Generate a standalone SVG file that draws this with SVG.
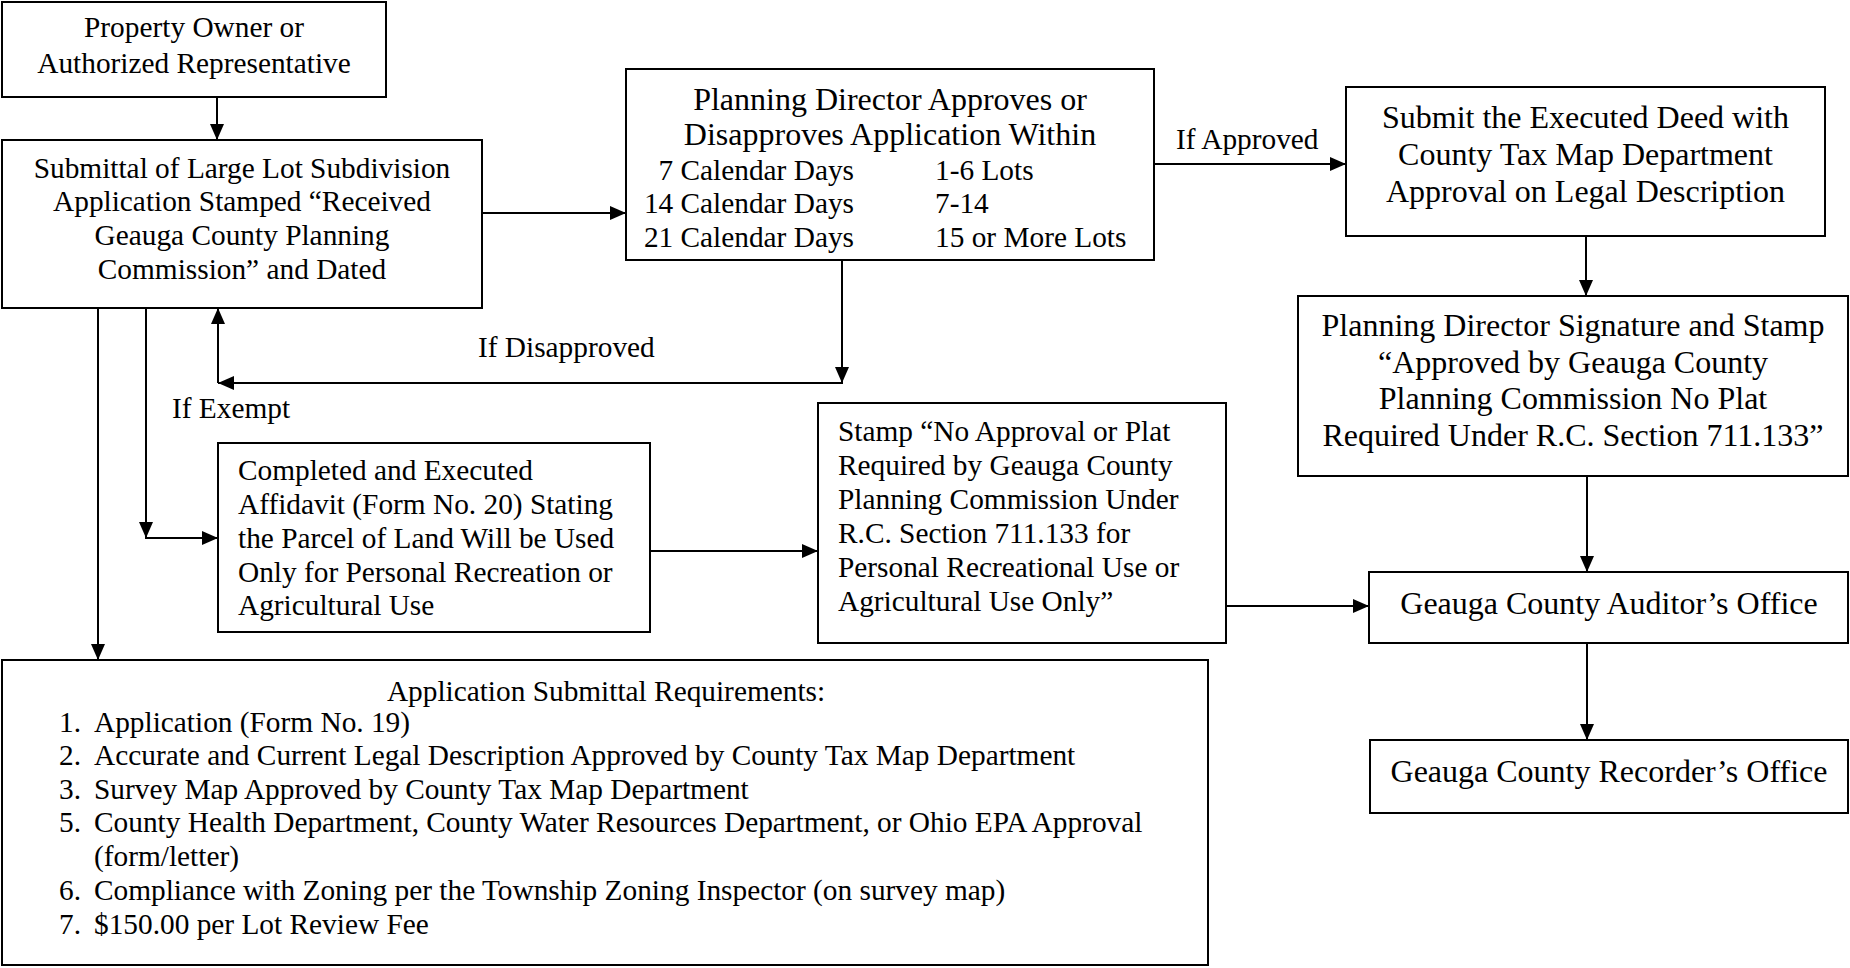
<svg xmlns="http://www.w3.org/2000/svg" width="1850" height="968" viewBox="0 0 1850 968">
<style>
.box{fill:#fff;stroke:#000;stroke-width:2}
.t{font-family:"Liberation Serif","Times New Roman",serif;fill:#000}
.s11{font-size:29.33px}
.s12{font-size:32px}
.c{text-anchor:middle}
.e{text-anchor:end}
.conn{stroke:#000;stroke-width:2;fill:none;marker-end:url(#ah)}
</style>
<defs>
<marker id="ah" markerUnits="userSpaceOnUse" markerWidth="16" markerHeight="14" refX="16" refY="7" orient="auto">
<path d="M0,0 L16,7 L0,14 z" fill="#000"/>
</marker>
</defs>
<rect width="1850" height="968" fill="#fff"/>
<g id="connectors">
<line class="conn" x1="217" y1="97" x2="217" y2="140"/>
<line class="conn" x1="482" y1="213" x2="626" y2="213"/>
<line class="conn" x1="1154" y1="164" x2="1346" y2="164"/>
<line class="conn" x1="1586" y1="236" x2="1586" y2="296"/>
<line class="conn" x1="1587" y1="476" x2="1587" y2="572"/>
<line class="conn" x1="1587" y1="643" x2="1587" y2="740"/>
<line class="conn" x1="1226" y1="606" x2="1369" y2="606"/>
<line class="conn" x1="650" y1="551" x2="818" y2="551"/>
<line class="conn" x1="842" y1="260" x2="842" y2="383"/>
<line class="conn" x1="843" y1="383" x2="218" y2="383"/>
<line class="conn" x1="218" y1="383" x2="218" y2="308"/>
<line class="conn" x1="146" y1="308" x2="146" y2="538"/>
<line class="conn" x1="145" y1="538" x2="218" y2="538"/>
<line class="conn" x1="98" y1="308" x2="98" y2="660"/>
<text class="t s11" x="1176" y="149">If Approved</text>
<text class="t s11" x="478" y="357">If Disapproved</text>
<text class="t s11" x="172" y="418">If Exempt</text>
</g>
<g id="owner">
<rect class="box" x="2" y="2" width="384" height="95"/>
<text class="t s11 c" x="194" y="37">Property Owner or</text>
<text class="t s11 c" x="194" y="73">Authorized Representative</text>
</g>
<g id="submittal">
<rect class="box" x="2" y="140" width="480" height="168"/>
<text class="t s11 c" x="242" y="178">Submittal of Large Lot Subdivision</text>
<text class="t s11 c" x="242" y="211">Application Stamped “Received</text>
<text class="t s11 c" x="242" y="245">Geauga County Planning</text>
<text class="t s11 c" x="242" y="279">Commission” and Dated</text>
</g>
<g id="director">
<rect class="box" x="626" y="69" width="528" height="191"/>
<text class="t s12 c" x="890" y="110">Planning Director Approves or</text>
<text class="t s12 c" x="890" y="145">Disapproves Application Within</text>
<text class="t s11 e" x="854" y="180">7 Calendar Days</text>
<text class="t s11 e" x="854" y="213">14 Calendar Days</text>
<text class="t s11 e" x="854" y="247">21 Calendar Days</text>
<text class="t s11" x="935" y="180">1-6 Lots</text>
<text class="t s11" x="935" y="213">7-14</text>
<text class="t s11" x="935" y="247">15 or More Lots</text>
</g>
<g id="deed">
<rect class="box" x="1346" y="87" width="479" height="149"/>
<text class="t s12 c" x="1585.5" y="128">Submit the Executed Deed with</text>
<text class="t s12 c" x="1585.5" y="165">County Tax Map Department</text>
<text class="t s12 c" x="1585.5" y="202">Approval on Legal Description</text>
</g>
<g id="signature">
<rect class="box" x="1298" y="296" width="550" height="180"/>
<text class="t s12 c" x="1573" y="336">Planning Director Signature and Stamp</text>
<text class="t s12 c" x="1573" y="373">“Approved by Geauga County</text>
<text class="t s12 c" x="1573" y="409">Planning Commission No Plat</text>
<text class="t s12 c" x="1573" y="446">Required Under R.C. Section 711.133”</text>
</g>
<g id="auditor">
<rect class="box" x="1369" y="572" width="479" height="71"/>
<text class="t s12 c" x="1609" y="614">Geauga County Auditor’s Office</text>
</g>
<g id="recorder">
<rect class="box" x="1370" y="740" width="478" height="73"/>
<text class="t s12 c" x="1609" y="782">Geauga County Recorder’s Office</text>
</g>
<g id="affidavit">
<rect class="box" x="218" y="443" width="432" height="189"/>
<text class="t s11" x="238" y="480">Completed and Executed</text>
<text class="t s11" x="238" y="514">Affidavit (Form No. 20) Stating</text>
<text class="t s11" x="238" y="548">the Parcel of Land Will be Used</text>
<text class="t s11" x="238" y="582">Only for Personal Recreation or</text>
<text class="t s11" x="238" y="615">Agricultural Use</text>
</g>
<g id="stamp">
<rect class="box" x="818" y="403" width="408" height="240"/>
<text class="t s11" x="838" y="441">Stamp “No Approval or Plat</text>
<text class="t s11" x="838" y="475">Required by Geauga County</text>
<text class="t s11" x="838" y="509">Planning Commission Under</text>
<text class="t s11" x="838" y="543">R.C. Section 711.133 for</text>
<text class="t s11" x="838" y="577">Personal Recreational Use or</text>
<text class="t s11" x="838" y="611">Agricultural Use Only”</text>
</g>
<g id="requirements">
<rect class="box" x="2" y="660" width="1206" height="305"/>
<text class="t s11 c" x="606" y="701">Application Submittal Requirements:</text>
<text class="t s11" x="59" y="732">1.</text><text class="t s11" x="94" y="732">Application (Form No. 19)</text>
<text class="t s11" x="59" y="765">2.</text><text class="t s11" x="94" y="765">Accurate and Current Legal Description Approved by County Tax Map Department</text>
<text class="t s11" x="59" y="799">3.</text><text class="t s11" x="94" y="799">Survey Map Approved by County Tax Map Department</text>
<text class="t s11" x="59" y="832">5.</text><text class="t s11" x="94" y="832">County Health Department, County Water Resources Department, or Ohio EPA Approval</text>
<text class="t s11" x="94" y="866">(form/letter)</text>
<text class="t s11" x="59" y="900">6.</text><text class="t s11" x="94" y="900">Compliance with Zoning per the Township Zoning Inspector (on survey map)</text>
<text class="t s11" x="59" y="934">7.</text><text class="t s11" x="94" y="934">$150.00 per Lot Review Fee</text>
</g>
</svg>
